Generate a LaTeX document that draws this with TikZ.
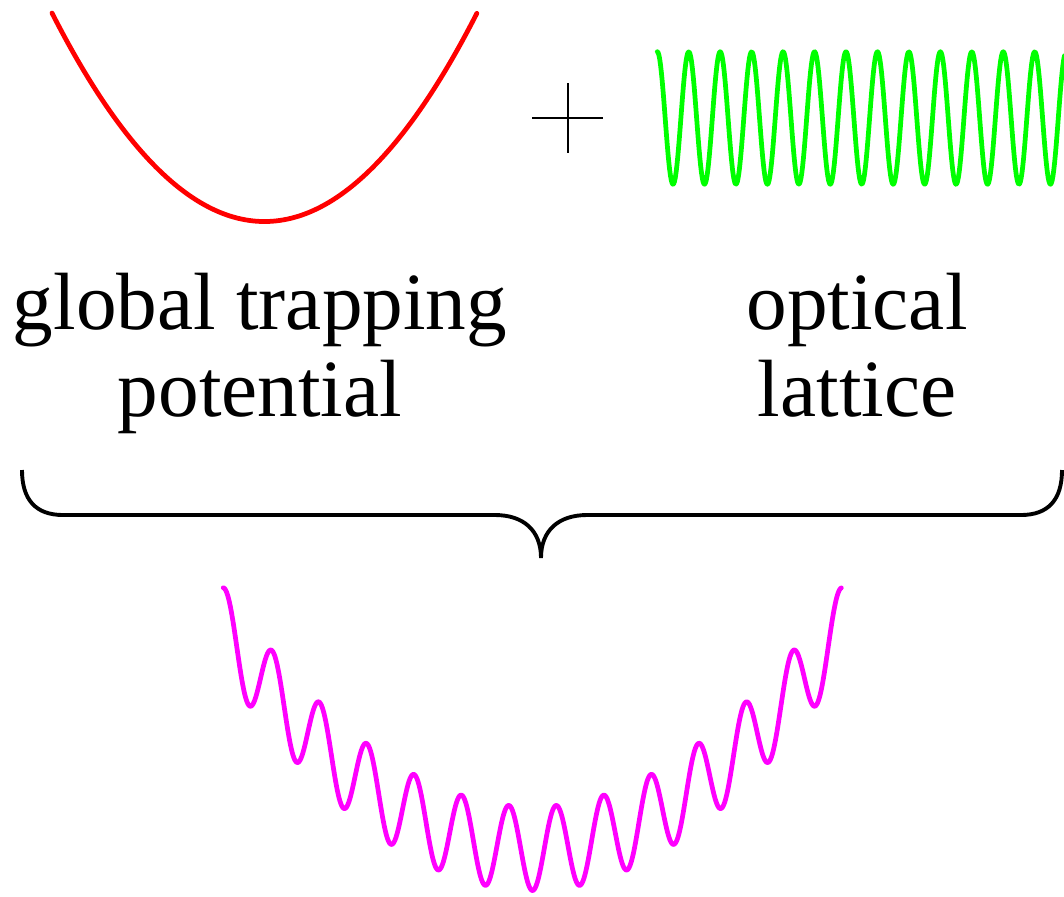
\documentclass[tikz,border=0pt]{standalone}
\usepackage{fontspec}
\setmainfont{Liberation Serif}
\usepackage{tikz}
\definecolor{rosa}{RGB}{255,0,255}
\definecolor{verd}{RGB}{0,255,0}

\begin{document}
\begin{tikzpicture}[x=0.01cm, y=-0.01cm,
    corba/.style={line width=1.35pt, line cap=round, line join=round},
    etiqueta/.style={align=center, anchor=base, inner sep=0pt,
      font=\fontsize{23.1}{24.7}\selectfont}]
    \useasboundingbox (0,0) rectangle (1064,896);

    % Potencial harmonic
    \draw[corba, red] plot[domain=-1:1, samples=120]
      ({264.5 + 212.5*\x}, {221.5 - 208.5*\x*\x});

    % Signe mes
    \draw[line width=0.5pt] (567.7,83) -- (567.7,153);
    \draw[line width=0.5pt] (532,118) -- (603,118);

    % Xarxa optica (en periodes)
    \draw[corba, verd] plot[domain=0:12.95, samples=500]
      ({657.3 + 31.45*\x}, {118 - 66.3*cos(360*\x)});

    % Etiquetes (la base es la de la darrera linia)
    \node[etiqueta] (trap) at (260,416.7) {global trapping\\potential};
    \node[etiqueta] (latt) at (857,416.7) {optical\\lattice};

    % Clau
    \draw[line width=1.1pt] (22,470) .. controls (22,500) and (36,515) .. (63,515)
      -- (495,515) .. controls (523,515) and (541,530) .. (541,558)
      .. controls (541,530) and (559,515) .. (587,515)
      -- (1021,515) .. controls (1048,515) and (1062,500) .. (1062,470);

    % Suma dels dos potencials
    \draw[corba, rosa] plot[domain=-6.537:6.537, samples=700]
      ({532.5 + 47.3*\x}, {890.5 - 5.15*\x*\x - 41.9*(1 - cos(360*\x))});
\end{tikzpicture}
\end{document}
